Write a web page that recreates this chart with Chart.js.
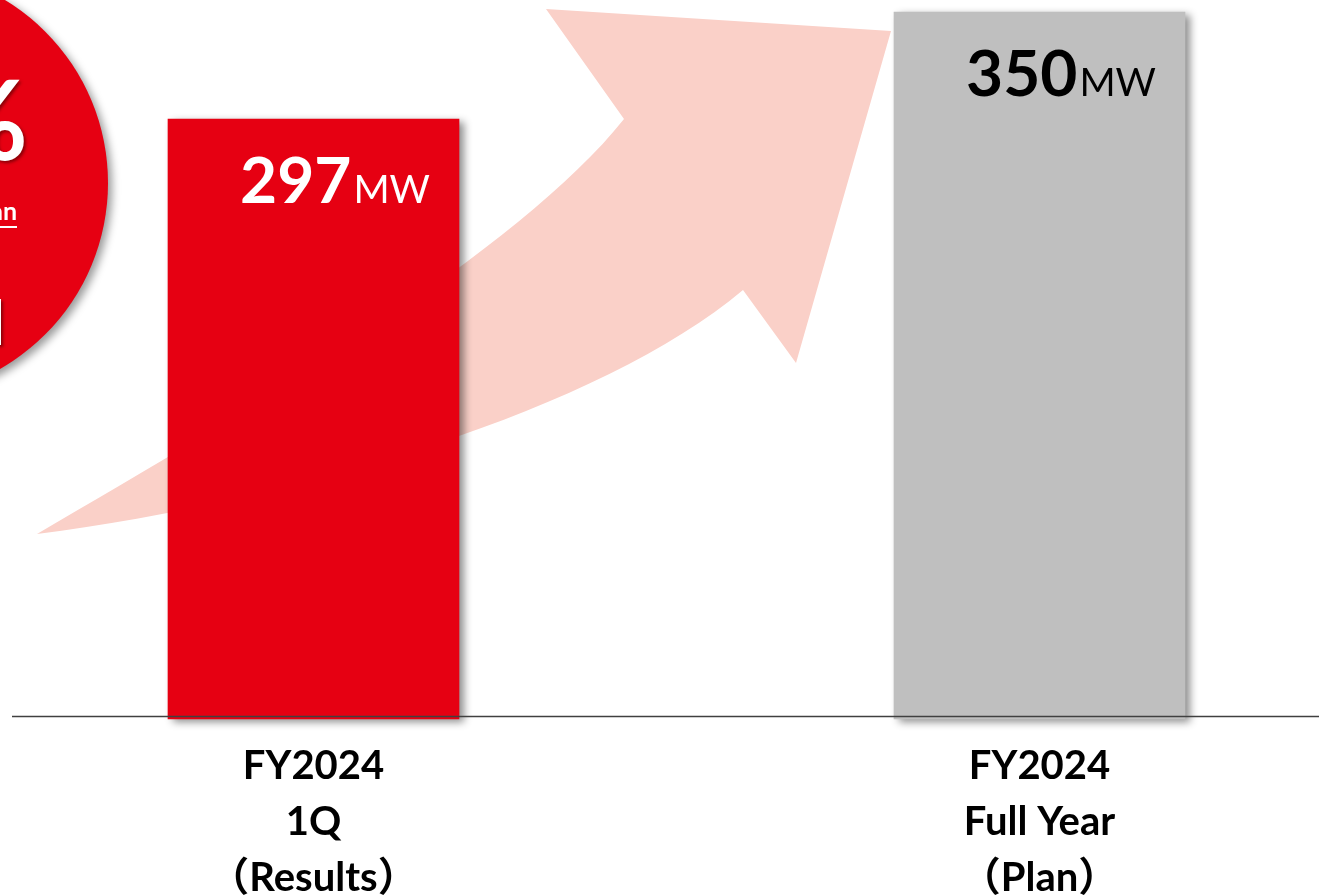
<!DOCTYPE html>
<html>
<head>
<meta charset="utf-8">
<script src="https://cdn.jsdelivr.net/npm/chart.js@4/dist/chart.umd.min.js"></script>
<style>
  html, body { margin: 0; padding: 0; background: #fff; }
  #wrap { width: 1319px; height: 895px; position: relative; }
</style>
</head>
<body>
<div id="wrap"><canvas id="graficoMW"></canvas></div>
<script>
const categories = [['FY2024', '1Q', '（Results）'], ['FY2024', 'Full Year', '（Plan）']];
const positions = [0, 1];
const values = [297, 350];
const unit = 'MW';
const barColors = ['#E60012', '#BFBFBF'];
const valueColors = ['#FFFFFF', '#000000'];

const FONT = "Lato, 'Noto Sans CJK JP', sans-serif";

// fondo: flecha rosa y circulo rojo cortado
const decor = {
    id: 'decor',
    beforeDatasetsDraw(chart) {
        const ctx = chart.ctx;
        ctx.save();
        ctx.fillStyle = '#FAD0C8';
        ctx.beginPath();
        ctx.moveTo(37, 534);
        ctx.bezierCurveTo(250, 410, 520, 250, 624, 119);
        ctx.lineTo(546, 9);
        ctx.lineTo(891, 31);
        ctx.lineTo(796, 363);
        ctx.lineTo(743, 290);
        ctx.bezierCurveTo(600, 410, 300, 500, 37, 534);
        ctx.closePath();
        ctx.fill();

        ctx.shadowColor = 'rgba(0,0,0,0.4)';
        ctx.shadowBlur = 8;
        ctx.shadowOffsetX = 4;
        ctx.shadowOffsetY = 4;
        ctx.fillStyle = '#E60012';
        ctx.beginPath();
        ctx.arc(-106, 183, 214, 0, Math.PI * 2);
        ctx.fill();

        ctx.shadowColor = 'rgba(80,0,0,0.6)';
        ctx.shadowBlur = 3;
        ctx.shadowOffsetX = 2;
        ctx.shadowOffsetY = 2;
        ctx.fillStyle = '#FFFFFF';
        ctx.textAlign = 'right';
        ctx.textBaseline = 'alphabetic';
        ctx.font = 'bold 112px ' + FONT;
        ctx.fillText('%', 28, 160);
        ctx.font = 'bold 62px ' + FONT;
        ctx.fillText('l', 5, 345);
        ctx.shadowColor = 'transparent';
        ctx.font = 'bold 25px ' + FONT;
        ctx.fillText('Plan', 17, 220);
        ctx.fillRect(-60, 226, 77, 2);
        ctx.restore();

        // sombra de las barras
        ctx.save();
        ctx.shadowColor = 'rgba(0,0,0,0.45)';
        ctx.shadowBlur = 8;
        ctx.shadowOffsetX = 5;
        ctx.shadowOffsetY = 3;
    },
    afterDatasetsDraw(chart) {
        const ctx = chart.ctx;
        ctx.restore();

        const y0 = chart.scales.y.getPixelForValue(0);
        ctx.save();
        ctx.strokeStyle = '#404040';
        ctx.lineWidth = 1.6;
        ctx.beginPath();
        ctx.moveTo(12, y0 - 2.5);
        ctx.lineTo(chart.width, y0 - 2.5);
        ctx.stroke();

        const meta = chart.getDatasetMeta(0);
        meta.data.forEach((bar, i) => {
            const right = bar.x + bar.width / 2 - 29;
            const base = bar.y + 84;
            ctx.fillStyle = valueColors[i];
            ctx.textAlign = 'right';
            ctx.textBaseline = 'alphabetic';
            ctx.font = '39px ' + FONT;
            ctx.fillText(unit, right, base);
            const w = ctx.measureText(unit).width;
            ctx.font = 'bold 64px ' + FONT;
            ctx.fillText(String(values[i]), right - w - 2, base);
        });
        ctx.restore();
    }
};

const ctx = document.getElementById('graficoMW').getContext('2d');

window.miGrafico = new Chart(ctx, {
    type: 'bar',
    data: {
        datasets: [{
            data: positions.map((p, i) => ({ x: p, y: values[i] })),
            backgroundColor: barColors,
            borderWidth: 0,
            barThickness: 291,
            clip: false
        }]
    },
    options: {
        responsive: true,
        maintainAspectRatio: false,
        animation: false,
        layout: {
            padding: { top: 12, left: 12, right: 0, bottom: 0 }
        },
        plugins: {
            legend: { display: false },
            tooltip: { enabled: false }
        },
        scales: {
            x: {
                type: 'linear',
                offset: false,
                min: -0.41529,
                max: 1.38499,
                grid: { display: false, offset: false },
                border: { display: false },
                afterBuildTicks: (scale) => {
                    scale.ticks = positions.map(p => ({ value: p }));
                },
                afterFit: (scale) => { scale.height = 176; },
                ticks: {
                    autoSkip: false,
                    maxRotation: 0,
                    padding: 11,
                    color: '#000000',
                    font: { family: FONT, size: 40, weight: 'bold', lineHeight: 1.4 },
                    callback: (value) => categories[value]
                }
            },
            y: {
                display: false,
                min: 0,
                max: 350
            }
        }
    },
    plugins: [decor]
});
</script>
</body>
</html>
